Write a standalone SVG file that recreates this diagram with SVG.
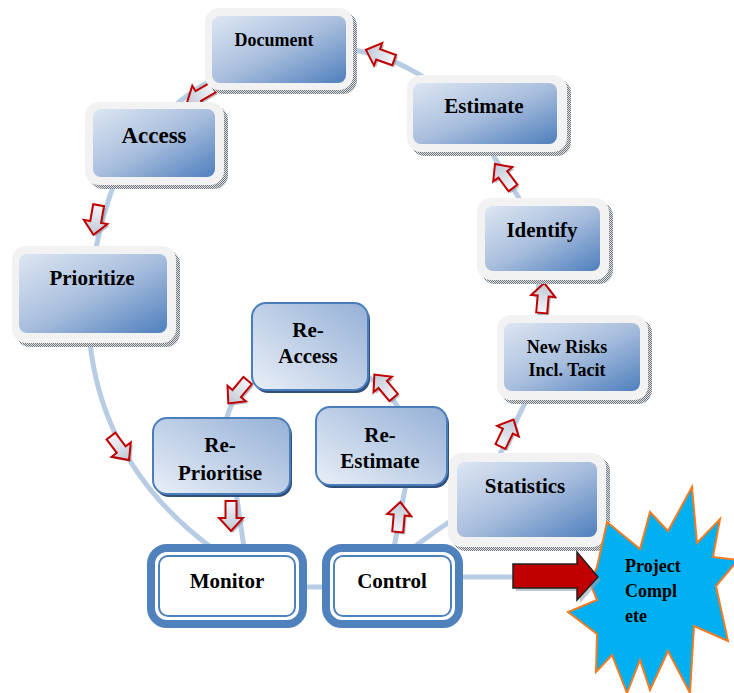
<svg xmlns="http://www.w3.org/2000/svg" width="734" height="693" viewBox="0 0 734 693">
<defs>
<linearGradient id="gOuter" x1="0" y1="0" x2="1" y2="1">
<stop offset="0" stop-color="#dde6f2"/>
<stop offset="0.5" stop-color="#a9bedd"/>
<stop offset="1" stop-color="#4f7fbd"/>
</linearGradient>
<linearGradient id="gInner" x1="0" y1="1" x2="1" y2="0">
<stop offset="0" stop-color="#e9eff7"/>
<stop offset="1" stop-color="#95b0d6"/>
</linearGradient>
<linearGradient id="gArrow" x1="0" y1="0" x2="1" y2="0">
<stop offset="0" stop-color="#f3f5f9"/>
<stop offset="1" stop-color="#c0c8d6"/>
</linearGradient>
<pattern id="hatch" width="2" height="2" patternUnits="userSpaceOnUse">
<rect width="2" height="2" fill="#e0e0e0"/>
<rect width="1" height="1" fill="#6f7780"/>
<rect x="1" y="1" width="1" height="1" fill="#6f7780"/>
</pattern>
<path id="arr" d="M-15,-5.5 L2,-5.5 L2,-12 L15,0 L2,12 L2,5.5 L-15,5.5 Z"/>
</defs>
<style>
.line{fill:none;stroke:#b8cce4;stroke-width:5}
.sa{fill:url(#gArrow);stroke:#c00000;stroke-width:2}
.sas{fill:#8a93a0;opacity:0.6}
.sh{fill:url(#hatch)}
.fr{fill:#f2f2f2}
.in{fill:url(#gOuter)}
.rb{fill:url(#gInner);stroke:#4a7ebb;stroke-width:2}
.rbs{fill:#2f4f7a}
.mo{fill:#fff;stroke:#4f81bd;stroke-width:8}
.mi{fill:none;stroke:#4f81bd;stroke-width:2}
text{font-family:"Liberation Serif","Times New Roman",serif;font-weight:bold;fill:#000;text-anchor:middle}
.t21{font-size:21px}
.t18{font-size:18px}
</style>
<rect width="734" height="693" fill="#fff"/>
<g id="connectors">
<path class="line" d="M352,50 Q390,55 428,80"/>
<path class="line" d="M172,108 Q190,92 212,80"/>
<path class="line" d="M114,184 Q103,214 96,248"/>
<path class="line" d="M90,343 Q104,468 212,548"/>
<path class="line" d="M490,150 L520,200"/>
<path class="line" d="M538,279 L540,317"/>
<path class="line" d="M527,399 L499,456"/>
<path class="line" d="M414,547 Q434,532 455,518"/>
<path class="line" d="M300,587 L330,587"/>
<path class="line" d="M460,577 L520,577"/>
<path class="line" d="M242,385 Q232,400 226,420"/>
<path class="line" d="M236,492 Q240,520 244,548"/>
<path class="line" d="M394,548 Q400,515 406,484"/>
<path class="line" d="M400,410 Q388,390 366,375"/>
<g>
<use href="#arr" class="sas" transform="translate(382,57) rotate(200)"/>
<use href="#arr" class="sa" transform="translate(380,55) rotate(200)"/>
<use href="#arr" class="sas" transform="translate(202,97) rotate(150)"/>
<use href="#arr" class="sa" transform="translate(200,95) rotate(150)"/>
<use href="#arr" class="sas" transform="translate(98,222) rotate(100)"/>
<use href="#arr" class="sa" transform="translate(96,220) rotate(100)"/>
<use href="#arr" class="sas" transform="translate(122,450) rotate(53)"/>
<use href="#arr" class="sa" transform="translate(120,448) rotate(53)"/>
<use href="#arr" class="sas" transform="translate(240,394) rotate(130)"/>
<use href="#arr" class="sa" transform="translate(238,392) rotate(130)"/>
<use href="#arr" class="sas" transform="translate(233,518) rotate(90)"/>
<use href="#arr" class="sa" transform="translate(231,516) rotate(90)"/>
<use href="#arr" class="sas" transform="translate(401,519) rotate(-85)"/>
<use href="#arr" class="sa" transform="translate(399,517) rotate(-85)"/>
<use href="#arr" class="sas" transform="translate(386,388) rotate(230)"/>
<use href="#arr" class="sa" transform="translate(384,386) rotate(230)"/>
<use href="#arr" class="sas" transform="translate(509,435) rotate(-64)"/>
<use href="#arr" class="sa" transform="translate(507,433) rotate(-64)"/>
<use href="#arr" class="sas" transform="translate(545,300) rotate(-85)"/>
<use href="#arr" class="sa" transform="translate(543,298) rotate(-85)"/>
<use href="#arr" class="sas" transform="translate(506,178) rotate(233)"/>
<use href="#arr" class="sa" transform="translate(504,176) rotate(233)"/>
</g>
</g>
<g id="document">
<rect class="sh" x="209" y="12" width="148" height="82" rx="14"/>
<rect class="fr" x="205" y="8" width="148" height="82" rx="14"/>
<rect class="in" x="212" y="16" width="134" height="67" rx="8"/>
<text x="274" y="46" style="font-size:18px">Document</text>
</g>
<g id="access">
<rect class="sh" x="89" y="106" width="139" height="83" rx="14"/>
<rect class="fr" x="85" y="102" width="139" height="83" rx="14"/>
<rect class="in" x="93" y="109" width="122" height="68" rx="8"/>
<text x="154" y="143" style="font-size:23px">Access</text>
</g>
<g id="estimate">
<rect class="sh" x="411" y="79" width="160" height="77" rx="14"/>
<rect class="fr" x="407" y="75" width="160" height="77" rx="14"/>
<rect class="in" x="413" y="83" width="144" height="61" rx="8"/>
<text class="t21" x="484" y="113">Estimate</text>
</g>
<g id="identify">
<rect class="sh" x="481" y="202" width="132" height="82" rx="14"/>
<rect class="fr" x="477" y="198" width="132" height="82" rx="14"/>
<rect class="in" x="485" y="206" width="115" height="65" rx="8"/>
<text class="t21" x="542" y="237">Identify</text>
</g>
<g id="new-risks">
<rect class="sh" x="501" y="319" width="151" height="85" rx="14"/>
<rect class="fr" x="497" y="315" width="151" height="85" rx="14"/>
<rect class="in" x="504" y="323" width="136" height="68" rx="8"/>
<text class="t18" x="567" y="353">New Risks</text>
<text class="t18" x="567" y="376">Incl. Tacit</text>
</g>
<g id="statistics">
<rect class="sh" x="452" y="457" width="158" height="94" rx="14"/>
<rect class="fr" x="448" y="453" width="158" height="94" rx="14"/>
<rect class="in" x="457" y="462" width="140" height="75" rx="8"/>
<text class="t21" x="525" y="493">Statistics</text>
</g>
<g id="prioritize">
<rect class="sh" x="16" y="250" width="164" height="97" rx="14"/>
<rect class="fr" x="12" y="246" width="164" height="97" rx="14"/>
<rect class="in" x="19" y="254" width="148" height="79" rx="8"/>
<text class="t21" x="92" y="285">Prioritize</text>
</g>
<g id="re-access">
<rect class="rbs" x="254" y="306" width="116" height="87" rx="14"/>
<rect class="rb" x="252" y="303" width="116" height="87" rx="14"/>
<text class="t21" x="308" y="337">Re-</text>
<text class="t21" x="308" y="363">Access</text>
</g>
<g id="re-prioritise">
<rect class="rbs" x="155" y="421" width="137" height="76" rx="14"/>
<rect class="rb" x="153" y="418" width="137" height="76" rx="14"/>
<text class="t21" x="220" y="452">Re-</text>
<text class="t21" x="220" y="480">Prioritise</text>
</g>
<g id="re-estimate">
<rect class="rbs" x="318" y="410" width="131" height="78" rx="14"/>
<rect class="rb" x="316" y="407" width="131" height="78" rx="14"/>
<text class="t21" x="380" y="442">Re-</text>
<text class="t21" x="380" y="468">Estimate</text>
</g>
<g id="monitor">
<rect class="mo" x="151" y="548" width="152" height="76" rx="16"/>
<rect class="mi" x="159" y="556" width="136" height="60" rx="9"/>
<text class="t21" x="227" y="588">Monitor</text>
</g>
<g id="control">
<rect class="mo" x="326" y="548" width="133" height="76" rx="16"/>
<rect class="mi" x="334" y="556" width="117" height="60" rx="9"/>
<text class="t21" x="392" y="588">Control</text>
</g>
<g id="project-complete">
<polygon fill="#00b0f0" stroke="#f47b20" stroke-width="2" stroke-linejoin="miter" points="607,522 640,549 650,512 668,531 692,487 697,543 720,519 713,557 738,560 716,586 728,641 694,626 690,693 668,651 650,690 640,660 627,693 612,655 596,672 597,634 568,612 597,600 590,583 597,567"/>
<text x="625" y="572" style="font-size:18px;text-anchor:start">Project</text>
<text x="625" y="597" style="font-size:18px;text-anchor:start">Compl</text>
<text x="625" y="622" style="font-size:18px;text-anchor:start">ete</text>
</g>
<g id="complete-arrow">
<path d="M516,567 L580,567 L580,555 L601,580 L580,603 L580,591 L516,591 Z" fill="#9aa3b0" opacity="0.6"/>
<path d="M513,564 L577,564 L577,552 L598,577 L577,600 L577,588 L513,588 Z" fill="#c00000" stroke="#222" stroke-width="1.5"/>
</g>
</svg>
